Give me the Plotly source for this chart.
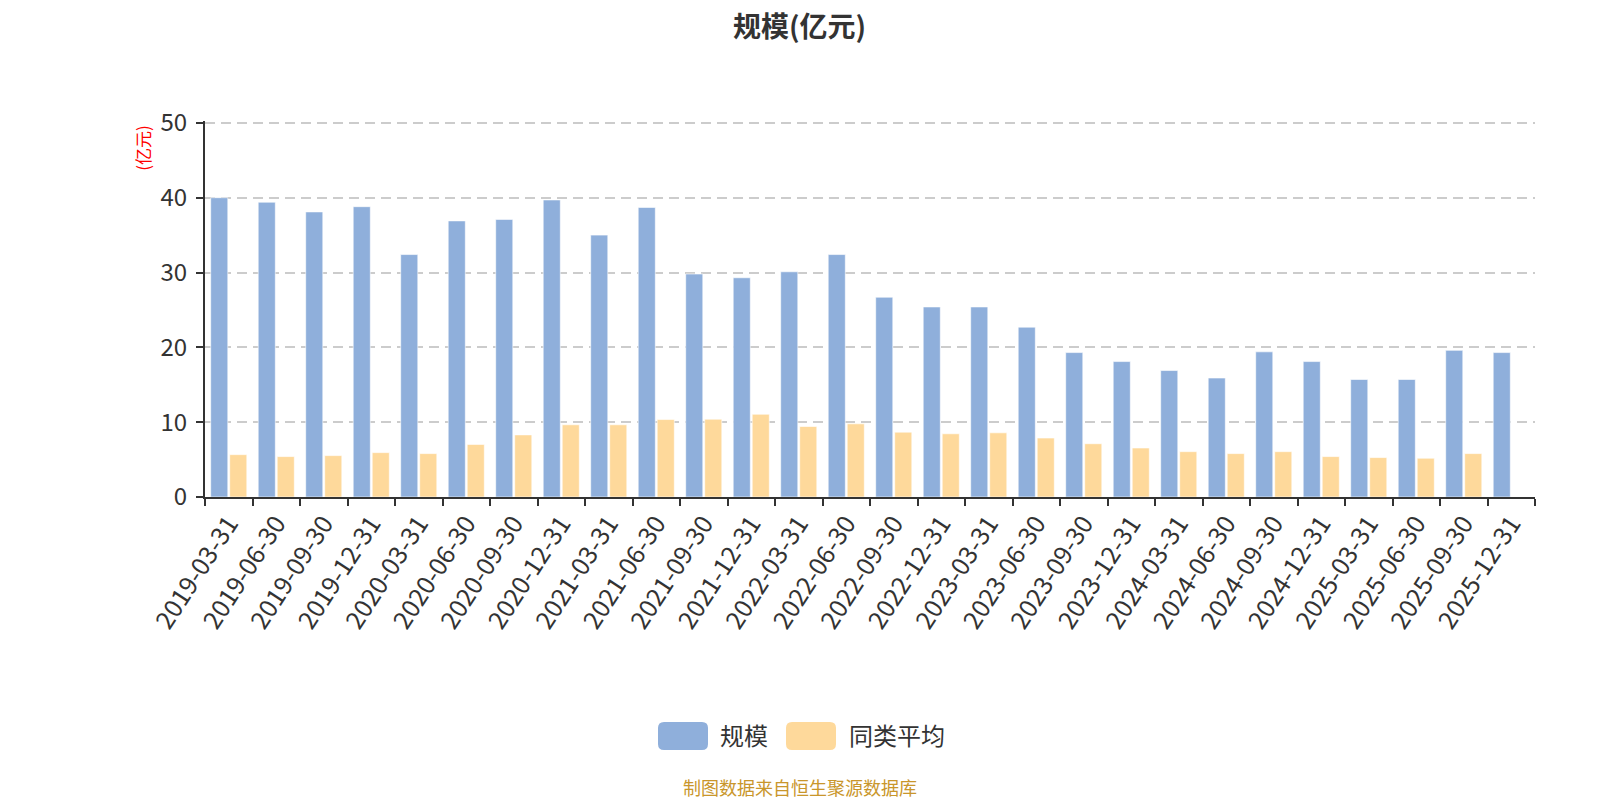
import plotly.graph_objects as go

categories = ["2019-03-31", "2019-06-30", "2019-09-30", "2019-12-31",
              "2020-03-31", "2020-06-30", "2020-09-30", "2020-12-31",
              "2021-03-31", "2021-06-30", "2021-09-30", "2021-12-31",
              "2022-03-31", "2022-06-30", "2022-09-30", "2022-12-31",
              "2023-03-31", "2023-06-30", "2023-09-30", "2023-12-31",
              "2024-03-31", "2024-06-30", "2024-09-30", "2024-12-31",
              "2025-03-31", "2025-06-30", "2025-09-30", "2025-12-31"]

scale_values = [40.0, 39.4, 38.1, 38.8, 32.4, 36.9, 37.1, 39.7, 35.0, 38.7,
                29.8, 29.3, 30.1, 32.4, 26.7, 25.4, 25.4, 22.7, 19.3, 18.1,
                16.9, 15.9, 19.4, 18.1, 15.7, 15.7, 19.6, 19.3]

peer_avg_values = [5.66, 5.4, 5.53, 5.93, 5.8, 7.03, 8.3, 9.65, 9.65, 10.35,
                   10.4, 11.06, 9.42, 9.78, 8.67, 8.45, 8.58, 7.88, 7.12, 6.55,
                   6.06, 5.8, 6.06, 5.4, 5.27, 5.18, 5.8, None]

y_ticks = [0, 10, 20, 30, 40, 50]

series_names = ["规模", "同类平均"]
series_colors = ["#8FAFDB", "#FED99B"]

# page body has an 8px margin, so the figure is drawn 8px smaller
W, H = 1592, 792
L, T, R, B = 197, 113, 65, 303
PW, PH = W - L - R, H - T - B

fig = go.Figure()
for name, vals, col in zip(series_names, [scale_values, peer_avg_values], series_colors):
    fig.add_trace(go.Bar(
        x=categories, y=vals, name=name, showlegend=False,
        marker=dict(color=col, line=dict(color="rgba(255,255,255,0.6)", width=1)),
    ))

fig.update_layout(
    width=W, height=H,
    paper_bgcolor="white", plot_bgcolor="white",
    font=dict(family="Noto Sans CJK SC, Noto Sans, sans-serif", color="#333"),
    margin=dict(l=L, r=R, t=T, b=B, autoexpand=False),
    barmode="group", bargap=0.2, bargroupgap=0.1,
    showlegend=False,
)

fig.update_xaxes(
    type="category", showline=True, linecolor="#333", linewidth=2,
    ticks="outside", tickson="boundaries", ticklen=7, tickcolor="#333", tickwidth=2,
    tickangle=-57, tickfont=dict(size=25, color="#333"),
    showgrid=False, automargin=False,
)
fig.update_yaxes(
    range=[0, 50.25], tickvals=y_ticks, showline=True, linecolor="#333", linewidth=2,
    ticks="outside", ticklen=7, tickcolor="#333", tickwidth=2, ticklabelstandoff=4,
    tickfont=dict(size=24, color="#333"),
    showgrid=True, gridcolor="#CCCCCC", gridwidth=1.8, griddash="10px,6px",
    zeroline=False, automargin=False,
)


def px_x(px):
    return (px - L) / PW


def px_y(py):
    return (T + PH - py) / PH


# chart title
fig.add_annotation(
    text="<b>规模(亿元)</b>", xref="paper", yref="paper",
    x=px_x(791), y=px_y(17), xanchor="center", yanchor="middle",
    showarrow=False, font=dict(size=28, color="#333"),
)

# y-axis unit label
fig.add_annotation(
    text="(亿元)", textangle=-90, xref="paper", yref="y", x=0, y=50,
    xshift=-62, xanchor="center", yanchor="top", showarrow=False,
    font=dict(size=17, color="red"),
)


def rounded_rect(w, h, r):
    hw, hh = w / 2, h / 2
    return (f"M {-hw + r},{-hh} L {hw - r},{-hh} Q {hw},{-hh} {hw},{-hh + r} "
            f"L {hw},{hh - r} Q {hw},{hh} {hw - r},{hh} L {-hw + r},{hh} "
            f"Q {-hw},{hh} {-hw},{hh - r} L {-hw},{-hh + r} Q {-hw},{-hh} {-hw + r},{-hh} Z")


# custom legend (large rounded swatches)
legend_swatch_x = [675, 803]
legend_text_x = [710, 839]
legend_y = 728
for name, col, sx, tx in zip(series_names, series_colors, legend_swatch_x, legend_text_x):
    fig.add_shape(
        type="path", xref="paper", yref="paper",
        xsizemode="pixel", ysizemode="pixel",
        xanchor=px_x(sx), yanchor=px_y(legend_y),
        path=rounded_rect(50, 28, 6),
        fillcolor=col, line=dict(width=0), layer="above",
    )
    fig.add_annotation(
        text=name, xref="paper", yref="paper", x=px_x(tx), y=px_y(legend_y - 2),
        xanchor="left", yanchor="middle", showarrow=False,
        font=dict(size=24, color="#333"),
    )

fig.add_annotation(
    text="制图数据来自恒生聚源数据库", xref="paper", yref="paper",
    x=px_x(792), y=px_y(779), xanchor="center", yanchor="middle",
    showarrow=False, font=dict(size=18, color="#C9962B"),
)

fig.write_html("out.html")
